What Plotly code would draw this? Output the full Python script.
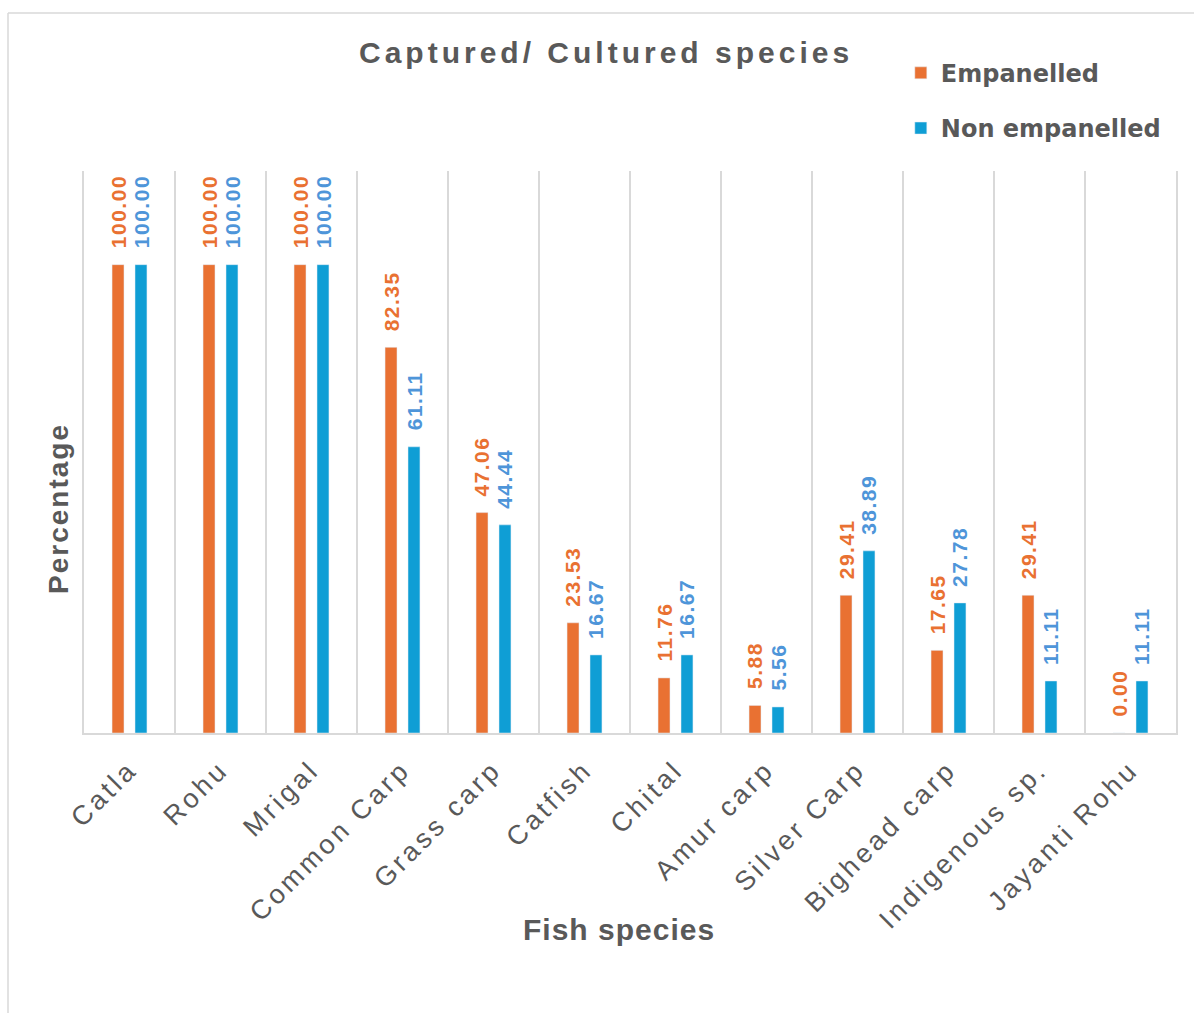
import plotly.graph_objects as go

# Species surveyed and share (%) of farmers culturing each one
species = ["Catla", "Rohu", "Mrigal", "Common Carp", "Grass carp", "Catfish",
           "Chital", "Amur carp", "Silver Carp", "Bighead carp",
           "Indigenous sp.", "Jayanti Rohu"]
empanelled = [100.00, 100.00, 100.00, 82.35, 47.06, 23.53, 11.76, 5.88,
              29.41, 17.65, 29.41, 0.00]
non_empanelled = [100.00, 100.00, 100.00, 61.11, 44.44, 16.67, 16.67, 5.56,
                  38.89, 27.78, 11.11, 11.11]

ORANGE = "#E97132"
BLUE = "#0F9ED5"
ORANGE_TXT = "#E97132"
BLUE_TXT = "#4E95D9"
GREY = "#595959"
LINE = "#D9D9D9"
FONT = "Liberation Sans, Arial, sans-serif"


def spaced(text, px):
    return f'<span style="letter-spacing:{px}px">{text}</span>'


fig = go.Figure()
fig.add_trace(go.Bar(x=species, y=empanelled, name="Empanelled",
                     marker_color=ORANGE, legendgroup="a"))
fig.add_trace(go.Bar(x=species, y=non_empanelled, name="Non empanelled",
                     marker_color=BLUE, legendgroup="b"))

annotations = []
# value labels above each bar, rotated to read upwards
for vals, shift, col in ((empanelled, -11.5, ORANGE_TXT),
                         (non_empanelled, 11.5, BLUE_TXT)):
    for cat, v in zip(species, vals):
        annotations.append(dict(
            x=cat, y=v, xref="x", yref="y", text=spaced(f"{v:.2f}", 1.5),
            showarrow=False, textangle=-90, xshift=shift, yshift=14,
            xanchor="center", yanchor="bottom",
            font=dict(family=FONT, size=21, color=col, weight="bold")))

annotations += [
    dict(x=0.478, y=1.21, xref="paper", yref="paper",
         xanchor="center", yanchor="middle",
         text=spaced("Captured/ Cultured species", 4), showarrow=False,
         font=dict(family=FONT, size=30, color=GREY, weight="bold")),
    dict(x=-0.024, y=0.40, xref="paper", yref="paper", textangle=-90,
         xanchor="center", yanchor="middle",
         text=spaced("Percentage", 2), showarrow=False,
         font=dict(family=FONT, size=28, color=GREY, weight="bold")),
    dict(x=0.49, y=-0.3505, xref="paper", yref="paper",
         xanchor="center", yanchor="middle",
         text=spaced("Fish species", 1), showarrow=False,
         font=dict(family=FONT, size=30, color=GREY, weight="bold")),
]

fig.update_layout(
    width=1194, height=1013,
    margin=dict(l=84, r=18, t=171, b=280),
    paper_bgcolor="white", plot_bgcolor="white",
    barmode="group", bargap=0.495, bargroupgap=0.48,
    showlegend=True,
    legend=dict(x=0.748, y=1.214, xanchor="left", yanchor="top",
                tracegroupgap=21, bgcolor="rgba(0,0,0,0)",
                font=dict(family="DejaVu Sans, sans-serif", size=24,
                          color=GREY, weight="bold")),
    annotations=annotations,
    shapes=[
        # outer chart frame
        dict(type="line", xref="paper", yref="paper",
             x0=-0.0696, x1=-0.0696, y0=1.281, y1=-0.6,
             line=dict(color=LINE, width=1.5)),
        dict(type="line", xref="paper", yref="paper",
             x0=-0.0696, x1=1.1, y0=1.281, y1=1.281,
             line=dict(color=LINE, width=1.5)),
    ],
)

fig.update_xaxes(
    type="category", tickson="boundaries", showgrid=True, gridcolor=LINE,
    gridwidth=1.5, showline=True, linecolor=LINE, linewidth=2,
    ticks="", tickangle=-45, ticklabelstandoff=8,
    tickmode="array", tickvals=species,
    ticktext=[spaced(s, 3.5) for s in species],
    tickfont=dict(family=FONT, size=27, color=GREY),
    range=[-0.5, len(species) - 0.5],
)
# left/right edges of the plot area drawn as mirrored axis lines
fig.update_yaxes(range=[0, 120], showgrid=False, showticklabels=False,
                 zeroline=False, ticks="", showline=True, mirror=True,
                 linecolor=LINE, linewidth=1.5)

fig.write_html("out.html")
